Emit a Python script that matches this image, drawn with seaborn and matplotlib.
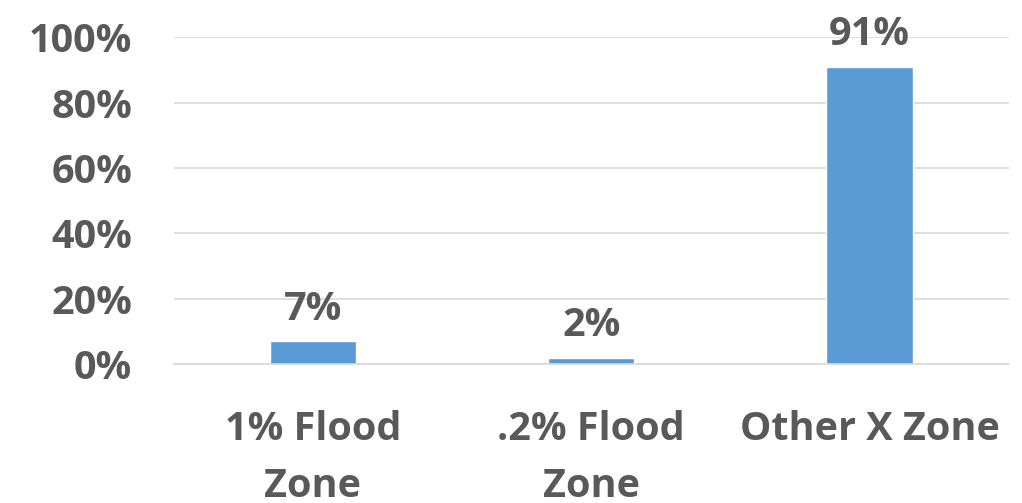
import matplotlib
matplotlib.use("Agg")
import matplotlib.pyplot as plt
import seaborn as sns
import pandas as pd

# chart data
categories = ['1% Flood\nZone', '.2% Flood\nZone', 'Other X Zone']
shares = [7, 2, 91]
value_labels = ['7%', '2%', '91%']
y_ticks = [0, 20, 40, 60, 80, 100]

df = pd.DataFrame({'cat': categories, 'share': shares})

sns.set_style('white')
plt.rcParams['font.family'] = ['Open Sans', 'DejaVu Sans']

fig = plt.figure(figsize=(10.22, 5.03), dpi=100)
ax = fig.add_axes([0.170, 0.276, 0.817, 0.650])

sns.barplot(data=df, x='cat', y='share', color='#5B9BD5', saturation=1,
            width=0.31, ax=ax)

ax.set_ylim(0, 100)
ax.set_yticks(y_ticks)
ax.set_yticklabels([f'{t}%' for t in y_ticks])
ax.yaxis.grid(True, color='#D9D9D9', lw=1.2)
ax.set_axisbelow(True)
for s in ['top', 'right', 'left']:
    ax.spines[s].set_visible(False)
ax.spines['bottom'].set_color('#D9D9D9')
ax.spines['bottom'].set_linewidth(1.2)
ax.set_xlabel('')
ax.set_ylabel('')
ax.tick_params(axis='both', length=0, labelsize=28.5, labelcolor='#595959')
ax.tick_params(axis='x', pad=33)
ax.tick_params(axis='y', pad=30)
for lab in ax.get_xticklabels() + ax.get_yticklabels():
    lab.set_fontweight('bold')
for lab in ax.get_xticklabels():
    lab.set_linespacing(1.6)

for i, (v, t) in enumerate(zip(shares, value_labels)):
    ax.annotate(t, (i, v), xytext=(0, 9), textcoords='offset points',
                ha='center', va='bottom', fontsize=28.5, fontweight='bold',
                color='#595959')

fig.savefig('out.png', dpi=100)
